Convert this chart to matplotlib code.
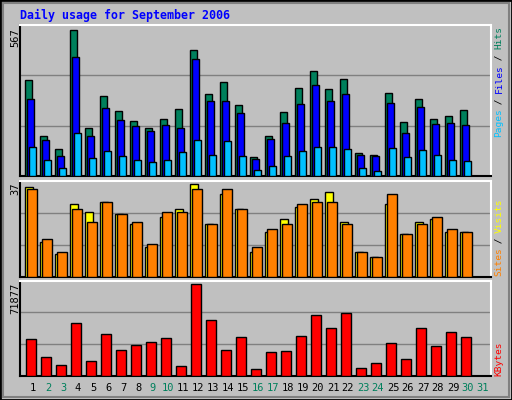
import matplotlib
matplotlib.use("Agg")
import matplotlib.pyplot as plt
import numpy as np
from matplotlib.patches import Rectangle

days = list(range(1, 31))
day_labels = [str(d) for d in range(1, 32)]
weekend = [2, 3, 9, 10, 16, 17, 23, 24, 30, 31]
hits = [371,155,105,567,186,309,251,213,186,221,259,490,317,363,275,74,155,248,340,405,336,375,90,82,321,209,298,221,232,255]
files = [298,140,78,463,155,263,217,194,174,198,186,452,290,290,244,67,144,205,278,352,290,317,82,78,282,167,267,201,205,198]
pages = [113,63,32,167,71,98,78,63,55,63,94,140,82,136,78,24,40,78,98,113,113,105,32,21,109,74,101,82,63,59]
visits = [36,14,9,29,26,30,25,21,12,24,27,37,21,33,27,10,18,23,28,31,34,22,10,8,29,17,22,23,18,18]
sites = [35,15,10,27,22,30,25,22,13,26,26,35,21,35,27,12,19,21,29,30,30,21,10,8,33,17,21,24,19,18]
kbytes = [28592,14427,8132,41183,11279,32527,19936,23871,26232,29379,7345,71877,43544,19936,30166,4984,18362,19149,30953,47479,37249,49053,5771,9706,25445,12853,37249,23084,34100,30166]

W, H = 512, 400
BG = "#C0C0C0"
fig = plt.figure(figsize=(W/100, H/100), dpi=100, facecolor=BG)
fig.patches.append(Rectangle((0, 0), 1, 1, transform=fig.transFigure, fill=False, ec="black", lw=2))
fig.patches.append(Rectangle((3/W, 3/H), 1-6/W, 1-6/H, transform=fig.transFigure, fill=False, ec="#808080", lw=1.5))
mono = "DejaVu Sans Mono"

def mkax(top, bot):
    ax = fig.add_axes([20/W, (H-bot)/H, 471/W, (bot-top)/H])
    ax.set_facecolor(BG)
    ax.set_xlim(2/3, 32.07)
    ax.set_xticks([]); ax.set_yticks([])
    for s in ["left", "bottom"]:
        ax.spines[s].set_color("black"); ax.spines[s].set_linewidth(1.5)
    for s in ["top", "right"]:
        ax.spines[s].set_color("white"); ax.spines[s].set_linewidth(1.5)
    return ax

d = np.array(days, dtype=float)
ek = dict(align="edge", edgecolor="black", linewidth=1, zorder=3)

ax1 = mkax(25, 176)
top1 = max(hits) * 151.7 / 147
ax1.set_ylim(0, top1)
for g in (top1/3, 2*top1/3):
    ax1.axhline(g, color="#808080", lw=1, zorder=1)
ax1.bar(d + 0.02, hits, 0.47, color="#00805C", **ek)
ax1.bar(d + 0.15, files, 0.47, color="#0000FF", **ek)
ax1.bar(d + 0.28, pages, 0.47, color="#00C0FF", **ek)

ax2 = mkax(180.5, 276.7)
top2 = max(visits) * 288 / 277
ax2.set_ylim(0, top2)
for g in (top2/3, 2*top2/3):
    ax2.axhline(g, color="#808080", lw=1, zorder=1)
ax2.bar(d + 0.02, visits, 0.53, color="#FFFF00", **ek)
ax2.bar(d + 0.15, sites, 0.62, color="#FF8000", **ek)

ax3 = mkax(280.5, 375.7)
top3 = max(kbytes) * 286 / 274
ax3.set_ylim(0, top3)
for g in (top3/3, 2*top3/3):
    ax3.axhline(g, color="#808080", lw=1, zorder=1)
ax3.bar(d + 0.09, kbytes, 0.67, color="#FF0000", **ek)

fig.text(20/W, 1-15/H, "Daily usage for September 2006", color="#0000FF",
         family=mono, weight="bold", fontsize=8.4, va="center", ha="left")

for txt, y in ((str(max(hits)), 28), (str(max(visits)), 182), (str(max(kbytes)), 283)):
    fig.text(15/W, 1-y/H, txt, rotation=90, family=mono, fontsize=7.5, ha="center", va="top")

def side(pieces, ybot):
    y = ybot
    for t, c in pieces:
        fig.text(499/W, 1-y/H, t, rotation=90, family=mono, fontsize=6.8, color=c,
                 ha="center", va="bottom")
        y -= 5.5 * len(t)
side([("Pages", "#00C0FF"), (" / ", "black"), ("Files", "#0000FF"), (" / ", "black"), ("Hits", "#00805C")], 137)
side([("Sites", "#FF8000"), (" / ", "black"), ("Visits", "#FFFF00")], 276.5)
side([("KBytes", "#FF0000")], 376)

for i, lab in enumerate(day_labels):
    day = i + 1
    px = 25 + 15 * (day - 1) + 8
    col = "#00805C" if day in weekend else "black"
    fig.text(px/W, 1-388/H, lab, color=col, family=mono, fontsize=7.5, ha="center", va="center")

fig.savefig("out.png", dpi=100, facecolor=BG)
